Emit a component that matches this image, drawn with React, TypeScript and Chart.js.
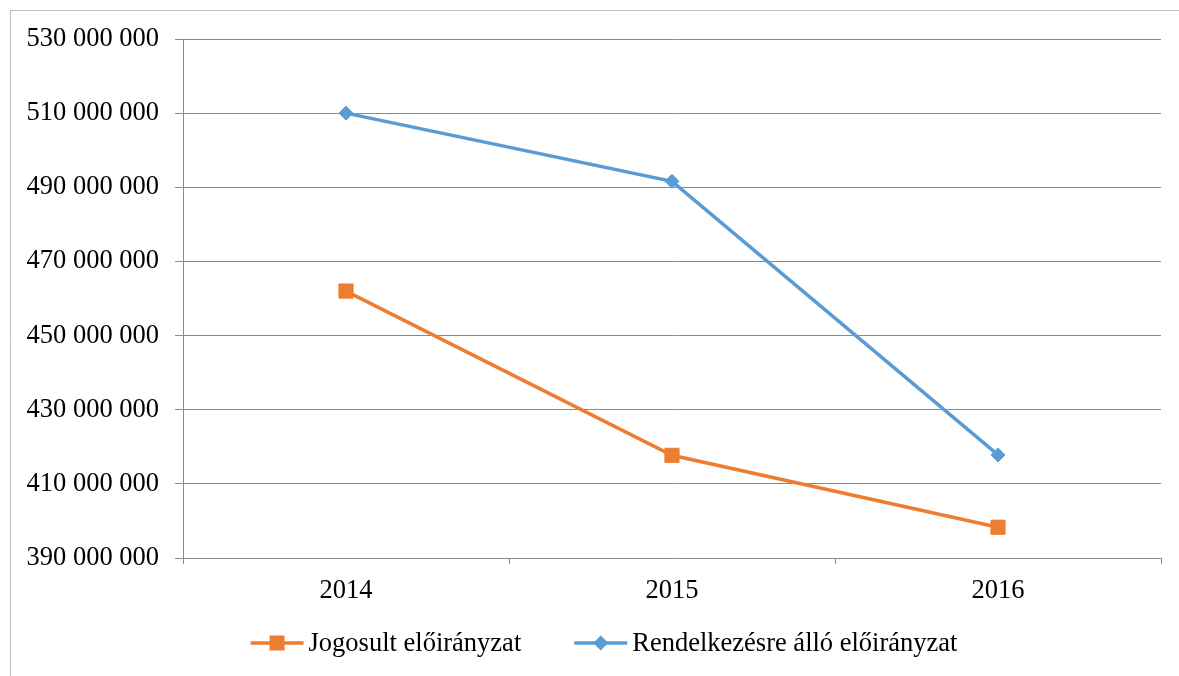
import React, { useEffect, useRef } from "react";
import { Chart, registerables } from "chart.js";

Chart.register(...registerables);

const categories = ["2014", "2015", "2016"];
const seriesNames = ["Jogosult előirányzat", "Rendelkezésre álló előirányzat"];
const jogosult = [462000000, 417700000, 398300000];
const rendelkezesre = [510000000, 491600000, 417800000];
const yMin = 390000000;
const yMax = 530000000;
const yStep = 20000000;

const ORANGE = "#ED7D31";
const BLUE = "#5B9BD5";
const GRID = "#8a8a8a";
const FONT = "'Liberation Serif', 'Times New Roman', serif";
const FONT_SIZE = 26.5;

const fmt = (v: number) => String(Math.round(v)).replace(/\B(?=(\d{3})+(?!\d))/g, " ");

const frame = {
  id: "frame",
  beforeDraw(chart: any) {
    const ctx = chart.ctx;
    ctx.save();
    ctx.strokeStyle = "#bdbdbd";
    ctx.lineWidth = 1;
    ctx.beginPath();
    ctx.moveTo(10.5, 676);
    ctx.lineTo(10.5, 10.5);
    ctx.lineTo(1179, 10.5);
    ctx.stroke();
    ctx.restore();
  },
};

const customLegend = {
  id: "customLegend",
  afterDraw(chart: any) {
    const ctx = chart.ctx;
    ctx.save();
    ctx.font = `${FONT_SIZE}px ${FONT}`;
    const lineLen = 53;
    const gapText = 5;
    const gapItems = 53;
    const items = chart.data.datasets.map((ds: any) => ({
      label: ds.label,
      color: ds.borderColor,
      style: ds.pointStyle,
      w: lineLen + gapText + ctx.measureText(ds.label).width,
    }));
    const total = items.reduce((s: number, it: any) => s + it.w, 0) + gapItems * (items.length - 1);
    let x = 604 - total / 2;
    const y = 643;
    items.forEach((it: any) => {
      ctx.strokeStyle = it.color;
      ctx.fillStyle = it.color;
      ctx.lineWidth = 3.5;
      ctx.beginPath();
      ctx.moveTo(x, y);
      ctx.lineTo(x + lineLen, y);
      ctx.stroke();
      const cx = x + lineLen / 2;
      ctx.beginPath();
      if (it.style === "rect") {
        ctx.rect(cx - 7.5, y - 7.5, 15, 15);
      } else {
        ctx.moveTo(cx - 7.5, y);
        ctx.lineTo(cx, y - 7.5);
        ctx.lineTo(cx + 7.5, y);
        ctx.lineTo(cx, y + 7.5);
        ctx.closePath();
      }
      ctx.fill();
      ctx.fillStyle = "#000";
      ctx.textBaseline = "alphabetic";
      ctx.textAlign = "left";
      ctx.fillText(it.label, x + lineLen + gapText, 651);
      x += it.w + gapItems;
    });
    ctx.restore();
  },
};

export default function App() {
  const ref = useRef<HTMLCanvasElement | null>(null);
  useEffect(() => {
    if (!ref.current) return;
    const chart = new Chart(ref.current, {
      type: "line",
      data: {
        labels: categories,
        datasets: [
          {
            label: seriesNames[0],
            data: jogosult,
            borderColor: ORANGE,
            backgroundColor: ORANGE,
            borderWidth: 3.5,
            pointStyle: "rect",
            pointRadius: 10,
            pointBorderWidth: 1,
            pointBackgroundColor: ORANGE,
            pointBorderColor: ORANGE,
            tension: 0,
          },
          {
            label: seriesNames[1],
            data: rendelkezesre,
            borderColor: BLUE,
            backgroundColor: BLUE,
            borderWidth: 3.5,
            pointStyle: "rectRot",
            pointRadius: 7,
            pointBorderWidth: 1,
            pointBackgroundColor: BLUE,
            pointBorderColor: BLUE,
            tension: 0,
          },
        ],
      },
      options: {
        responsive: false,
        animation: false,
        layout: { padding: { top: 39, right: 18, bottom: 58, left: 0 } },
        plugins: {
          legend: { display: false },
          tooltip: { enabled: false },
          title: { display: false },
        },
        scales: {
          x: {
            type: "category",
            offset: true,
            grid: {
              display: true,
              drawOnChartArea: false,
              drawTicks: true,
              tickLength: 6,
              color: GRID,
              offset: true,
            },
            border: { display: true, color: GRID },
            ticks: {
              color: "#000",
              font: { family: FONT, size: FONT_SIZE },
              padding: 11,
              maxRotation: 0,
            },
            afterFit: (scale: any) => {
              scale.height = 60;
            },
          },
          y: {
            min: yMin,
            max: yMax,
            grid: { color: GRID, tickLength: 8, drawTicks: true },
            border: { display: true, color: GRID },
            ticks: {
              stepSize: yStep,
              color: "#000",
              font: { family: FONT, size: FONT_SIZE },
              padding: 16,
              callback: (v: any) => fmt(Number(v)),
            },
            afterFit: (scale: any) => {
              scale.width = 183;
            },
          },
        },
      },
      plugins: [frame, customLegend],
    });
    return () => chart.destroy();
  }, []);
  return (
    <div style={{ position: "fixed", left: 0, top: 0, width: 1179, height: 676, background: "#fff" }}>
      <canvas ref={ref} width={1179} height={676} style={{ width: 1179, height: 676, display: "block" }} />
    </div>
  );
}
